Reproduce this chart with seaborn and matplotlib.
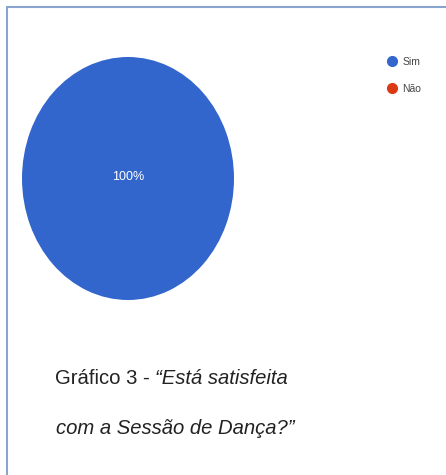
import matplotlib
matplotlib.use("Agg")
import matplotlib.pyplot as plt
from matplotlib.lines import Line2D
import seaborn as sns

categories = ["Sim", "Não"]
values = [100, 0]
colors = ["#3366cc", "#dc3912"]
caption_plain = "Gráfico 3 - "
caption_italic_1 = "“Está satisfeita"
caption_italic_2 = "com a Sessão de Dança?”"

sns.set_theme(style="white")
plt.rcParams["font.family"] = ["Liberation Sans", "DejaVu Sans"]

W, H = 446, 475
fig = plt.figure(figsize=(W / 100, H / 100), dpi=100)
fig.patch.set_facecolor("white")

# pie axes (ellipse as in reference)
x0, y0, x1, y1 = 22, 57, 234, 300
ax = fig.add_axes([x0 / W, (H - y1) / H, (x1 - x0) / W, (y1 - y0) / H])
wedges, texts, autotexts = ax.pie(
    values, colors=colors, startangle=90, counterclock=False,
    autopct=lambda p: f"{p:.0f}%" if p >= 1 else "", pctdistance=0.0,
    wedgeprops=dict(linewidth=0), textprops=dict(color="white", fontsize=9),
)
for t in autotexts:
    t.set_y(0.01)
ax.set_aspect("auto")
ax.set_xlim(-1, 1)
ax.set_ylim(-1, 1)
ax.axis("off")

# legend
handles = [Line2D([], [], linestyle="none", marker="o", markersize=7,
                  markerfacecolor=c, markeredgecolor=c) for c in colors]
leg = fig.legend(handles, categories, loc="upper left",
                 bbox_to_anchor=(387 / W, 1 - 57 / H), frameon=False,
                 fontsize=7.5, labelspacing=1.6, handlelength=1.0,
                 handletextpad=0.45, borderpad=0, borderaxespad=0)
for t in leg.get_texts():
    t.set_color("#444444")

# caption
fig.canvas.draw()
r = fig.canvas.get_renderer()
fs = 14.6
t1 = fig.text(55 / W, 1 - 379 / H, caption_plain, fontsize=fs, color="#222222",
              va="center", ha="left")
bb = t1.get_window_extent(renderer=r)
fig.text(bb.x1 / W, 1 - 379 / H, caption_italic_1, fontsize=fs, color="#222222",
         va="center", ha="left", style="italic")
fig.text(56 / W, 1 - 429 / H, caption_italic_2, fontsize=fs, color="#222222",
         va="center", ha="left", style="italic")

# frame border (left and top)
bc = "#8aa4d0"
fig.add_artist(Line2D([6.5 / W, 6.5 / W], [0, 1 - 7 / H], color=bc, lw=1.5,
                      transform=fig.transFigure))
fig.add_artist(Line2D([6.5 / W, 1], [1 - 7 / H, 1 - 7 / H], color=bc, lw=1.5,
                      transform=fig.transFigure))

fig.savefig("out.png", dpi=100)
